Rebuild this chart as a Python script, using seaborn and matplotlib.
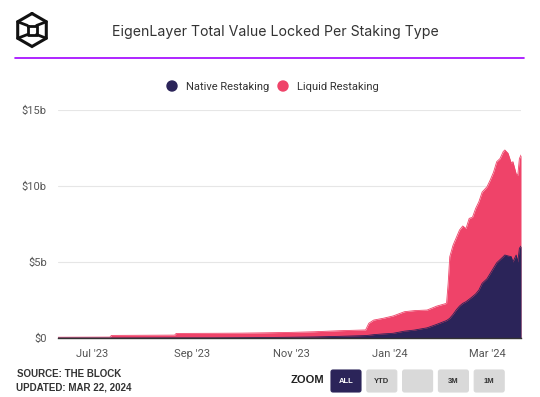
import matplotlib
matplotlib.use("Agg")
import matplotlib.pyplot as plt
import matplotlib.dates as mdates
from matplotlib.patches import FancyBboxPatch, Circle
import seaborn as sns
import pandas as pd
import numpy as np

# data (values in $ billions)
dates = ["2023-06-10", "2023-07-12", "2023-07-13", "2023-08-21", "2023-08-22",
         "2023-09-15", "2023-10-01", "2023-10-15", "2023-11-01", "2023-11-15",
         "2023-12-01", "2023-12-17", "2023-12-19", "2023-12-22", "2023-12-28",
         "2024-01-03", "2024-01-10", "2024-01-16", "2024-01-24", "2024-01-30",
         "2024-02-05", "2024-02-06", "2024-02-07", "2024-02-09", "2024-02-11",
         "2024-02-13", "2024-02-15", "2024-02-17", "2024-02-19", "2024-02-21",
         "2024-02-23", "2024-02-25", "2024-02-27", "2024-03-01", "2024-03-03",
         "2024-03-05", "2024-03-07", "2024-03-09", "2024-03-11", "2024-03-12",
         "2024-03-14", "2024-03-16", "2024-03-17", "2024-03-19", "2024-03-20",
         "2024-03-21", "2024-03-22"]
native = [0.00, 0.00, 0.00, 0.01, 0.01,
          0.01, 0.02, 0.03, 0.05, 0.07,
          0.11, 0.16, 0.18, 0.22, 0.27,
          0.31, 0.45, 0.52, 0.67, 0.90,
          1.15, 1.22, 1.30, 1.55, 1.85,
          2.10, 2.28, 2.39, 2.55, 2.72,
          2.90, 3.16, 3.60, 3.90, 4.25,
          4.60, 4.95, 5.15, 5.35, 5.46,
          5.40, 5.35, 5.00, 5.46, 5.00,
          5.90, 6.05]
liquid = [0.05, 0.06, 0.17, 0.18, 0.29,
          0.30, 0.30, 0.31, 0.32, 0.34,
          0.37, 0.37, 0.79, 0.96, 1.03,
          1.14, 1.28, 1.28, 1.17, 1.20,
          1.13, 2.38, 4.05, 4.55, 4.75,
          5.00, 5.09, 4.81, 5.32, 5.22,
          5.63, 5.81, 6.00, 6.05, 6.15,
          6.30, 6.65, 6.65, 6.91, 6.91,
          6.75, 6.15, 6.60, 5.34, 5.70,
          5.90, 5.99]
series_names = ["Native Restaking", "Liquid Restaking"]
series_colors = ["#2b2459", "#ef4369"]
y_ticks = [0, 5, 10, 15]
y_labels = ["$0", "$5b", "$10b", "$15b"]
x_ticks = ["2023-07-01", "2023-09-01", "2023-11-01", "2024-01-01", "2024-03-01"]
buttons = ["ALL", "YTD", "", "3M", "1M"]

df = pd.DataFrame({"date": pd.to_datetime(dates), "native": native, "liquid": liquid})
df["total"] = df["native"] + df["liquid"]

sns.set_theme(style="white")
plt.rcParams["font.family"] = ["Roboto", "DejaVu Sans"]

W, H = 540, 397
fig = plt.figure(figsize=(W / 100, H / 100), dpi=100)
fig.patch.set_facecolor("white")

# overlay in pixel coordinates for header/footer decoration
deco = fig.add_axes([0, 0, 1, 1])
deco.set_xlim(0, W)
deco.set_ylim(H, 0)
deco.axis("off")

# logo (hexagon cube)
cx, cy, r = 32, 30, 16.5
ang = np.deg2rad([90, 30, -30, -90, -150, 150, 90])
hx = cx + r * np.cos(ang)
hy = cy - r * np.sin(ang)
deco.plot(hx, hy, color="#111111", lw=2.2, solid_joinstyle="miter")
s = 4.5
sq_x = [cx - s, cx + s, cx + s, cx - s, cx - s]
sq_y = [cy - s, cy - s, cy + s, cy + s, cy - s]
deco.plot(sq_x, sq_y, color="#111111", lw=2.0)
for vx, vy, qx, qy in [(hx[5], hy[5], cx - s, cy - s), (hx[1], hy[1], cx + s, cy - s),
                       (hx[4], hy[4], cx - s, cy + s), (hx[2], hy[2], cx + s, cy + s)]:
    deco.plot([vx, qx], [vy, qy], color="#111111", lw=2.0)

deco.text(275, 32, "EigenLayer Total Value Locked Per Staking Type", ha="center", va="center",
          fontsize=10.2, color="#333333", family=["Inter", "DejaVu Sans"])
deco.plot([15, 524], [58, 58], color="#a100ff", lw=1.2)

# legend
for (lx, name, col) in [(172, series_names[0], series_colors[0]), (283, series_names[1], series_colors[1])]:
    deco.add_patch(Circle((lx, 86), 5, color=col))
    deco.text(lx + 14, 86.5, name, ha="left", va="center", fontsize=8, color="#333333")

# footer
deco.text(17, 374, "SOURCE: THE BLOCK", ha="left", va="center", fontsize=7, color="#333333",
          family=["Liberation Sans", "DejaVu Sans"], fontweight="bold")
deco.text(16, 387, "UPDATED: MAR 22, 2024", ha="left", va="center", fontsize=7, color="#333333",
          family=["Liberation Sans", "DejaVu Sans"], fontweight="bold")
deco.text(307, 380, "ZOOM", ha="center", va="center", fontsize=8, color="#222222",
          family=["Liberation Sans", "DejaVu Sans"], fontweight="bold")
for i, lab in enumerate(buttons):
    bx = 331 + i * 35.8
    active = i == 0
    deco.add_patch(FancyBboxPatch((bx, 370), 30, 22, boxstyle="round,pad=0,rounding_size=2",
                                  facecolor="#2b2459" if active else "#d9d9d9",
                                  edgecolor="#2b2459" if active else "#d9d9d9", lw=0.8))
    deco.text(bx + 15, 381.5, lab, ha="center", va="center", fontsize=5.5, fontweight="bold",
              color="white" if active else "#333333", family=["Liberation Sans", "DejaVu Sans"])

# main chart
ax = fig.add_axes([58 / W, 1 - 338 / H, (521 - 58) / W, (338 - 110) / H])
ax.set_facecolor("none")
ax.fill_between(df["date"], 0, df["total"], color=series_colors[1], lw=0)
ax.fill_between(df["date"], 0, df["native"], color=series_colors[0], lw=0)
sns.lineplot(x=df["date"], y=df["total"], ax=ax, color=series_colors[1], lw=0.6)
sns.lineplot(x=df["date"], y=df["native"], ax=ax, color=series_colors[0], lw=0.6)

ax.set_xlim(pd.Timestamp("2023-06-10"), pd.Timestamp("2024-03-22"))
ax.set_ylim(0, 15)
ax.set_yticks(y_ticks)
ax.set_yticklabels(y_labels)
ax.set_xticks(pd.to_datetime(x_ticks))
ax.xaxis.set_major_formatter(mdates.DateFormatter("%b '%y"))
ax.grid(axis="y", color="#e6e6e6", lw=0.8)
ax.set_axisbelow(True)
for sp in ["top", "right", "left"]:
    ax.spines[sp].set_visible(False)
ax.spines["bottom"].set_color("#333333")
ax.spines["bottom"].set_linewidth(1.0)
ax.spines["bottom"].set_zorder(5)
ax.tick_params(axis="both", length=0, labelsize=8, labelcolor="#555555")
ax.tick_params(axis="x", pad=8)
ax.tick_params(axis="y", pad=8)
ax.set_xlabel("")
ax.set_ylabel("")

fig.savefig("out.png", dpi=100)
